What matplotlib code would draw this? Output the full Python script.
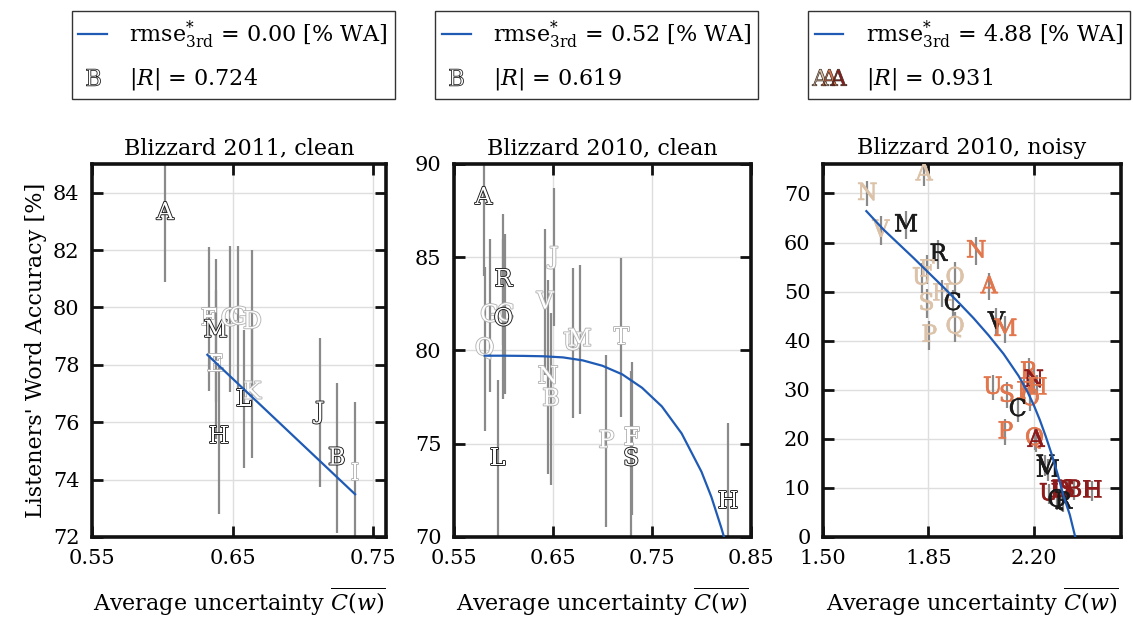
import matplotlib
matplotlib.use('Agg')
import matplotlib.pyplot as plt
import matplotlib.patheffects as pe
from matplotlib.lines import Line2D
from matplotlib.legend_handler import HandlerTuple

plt.rcParams['font.family'] = ['DejaVu Serif']
plt.rcParams['mathtext.fontset'] = 'dejavuserif'

# ---------------- data ----------------
titles = ['Blizzard 2011, clean', 'Blizzard 2010, clean', 'Blizzard 2010, noisy']
rmse_vals = ['0.00', '0.52', '4.88']
r_vals = ['0.724', '0.619', '0.931']

# Panel 1: Blizzard 2011 clean
labels1 = ['A', 'F', 'M', 'E', 'H', 'C', 'G', 'D', 'L', 'K', 'J', 'B', 'I']
x1 = [0.602, 0.633, 0.638, 0.638, 0.640, 0.648, 0.654, 0.664, 0.658, 0.664, 0.712, 0.724, 0.737]
y1 = [83.3, 79.6, 79.2, 78.0, 75.5, 79.6, 79.65, 79.5, 76.8, 77.05, 76.35, 74.75, 74.2]
e1 = [2.4, 2.5, 2.5, 2.6, 2.7, 2.55, 2.5, 2.5, 2.4, 2.3, 2.6, 2.6, 2.5]
g1 = ['k', 'g', 'k', 'g', 'k', 'g', 'g', 'g', 'k', 'g', 'k', 'k', 'g']
fit1_x = [0.632, 0.737]
fit1_y = [78.35, 73.49]

# Panel 2: Blizzard 2010 clean
labels2 = ['A', 'Q', 'G', 'C', 'R', 'O', 'L', 'V', 'N', 'B', 'J', 'U', 'M', 'P', 'T', 'F', 'S', 'H']
x2 = [0.580, 0.581, 0.586, 0.602, 0.600, 0.600, 0.594, 0.642, 0.645, 0.648, 0.651, 0.670, 0.677, 0.704, 0.719, 0.730, 0.729, 0.827]
y2 = [88.2, 80.1, 81.9, 81.95, 83.8, 81.7, 74.2, 82.6, 78.6, 77.4, 85.0, 80.4, 80.6, 75.15, 80.7, 75.3, 74.2, 71.9]
e2 = [4.2, 4.4, 4.1, 4.3, 3.5, 4.3, 4.2, 3.9, 5.2, 4.6, 3.7, 4.0, 4.0, 4.6, 4.25, 4.1, 4.7, 4.2]
g2 = ['k', 'g', 'g', 'g', 'k', 'k', 'k', 'g', 'g', 'g', 'g', 'g', 'g', 'g', 'g', 'g', 'k', 'k']
fit2_x = [0.581, 0.60, 0.62, 0.64, 0.66, 0.68, 0.70, 0.72, 0.74, 0.76, 0.78, 0.80, 0.81, 0.82, 0.83]
fit2_y = [79.72, 79.72, 79.71, 79.69, 79.63, 79.47, 79.18, 78.72, 78.0, 77.0, 75.55, 73.5, 72.15, 70.5, 68.7]

# Panel 3: Blizzard 2010 noisy
labels3 = ['N', 'A', 'V', 'M', 'R', 'U', 'F', 'O', 'H', 'C', 'S', 'Q', 'P',
           'N', 'A', 'V', 'M', 'R', 'N', 'H', 'U', 'S', 'F', 'O', 'C', 'P', 'Q', 'A',
           'V', 'M', 'U', 'I', 'D', 'S', 'B', 'H', 'Q', 'R']
x3 = [1.647, 1.836, 1.692, 1.776, 1.883, 1.828, 1.844, 1.939, 1.894, 1.931, 1.844, 1.939, 1.853,
      2.009, 2.052, 2.076, 2.106, 2.183, 2.200, 2.211, 2.064, 2.111, 2.169, 2.189, 2.147, 2.106, 2.203, 2.208,
      2.239, 2.247, 2.250, 2.269, 2.290, 2.312, 2.333, 2.394, 2.278, 2.298]
y3 = [70.0, 74.0, 62.5, 63.6, 57.6, 52.8, 54.5, 52.8, 49.6, 47.6, 47.6, 42.8, 41.1,
      58.3, 51.0, 43.8, 42.3, 33.6, 31.9, 30.5, 30.5, 28.9, 29.6, 28.2, 26.0, 21.4, 20.1, 19.7,
      14.6, 13.6, 8.8, 9.5, 9.5, 9.5, 9.5, 9.4, 7.5, 7.1]
e3 = [2.6, 2.4, 3.0, 2.8, 3.0, 3.0, 3.0, 3.2, 2.8, 2.8, 3.0, 3.0, 3.0,
      2.8, 2.8, 2.8, 2.8, 2.8, 2.8, 2.6, 2.6, 2.6, 2.6, 2.6, 2.6, 2.6, 2.4, 2.4,
      2.2, 2.2, 2.0, 2.0, 2.0, 2.0, 2.0, 2.0, 2.0, 2.0]
g3 = ['l', 'l', 'l', 'k', 'k', 'l', 'l', 'l', 'l', 'k', 'l', 'l', 'l',
      'o', 'o', 'k', 'o', 'o', 'd', 'o', 'o', 'o', 'o', 'o', 'k', 'o', 'o', 'd',
      'k', 'k', 'd', 'd', 'd', 'd', 'd', 'd', 'k', 'k']
fit3_x = [1.644, 1.70, 1.75, 1.80, 1.85, 1.90, 1.95, 2.00, 2.05, 2.10, 2.15, 2.18, 2.20,
          2.22, 2.24, 2.26, 2.28, 2.30, 2.32, 2.34]
fit3_y = [66.4, 62.7, 59.8, 56.9, 53.9, 50.9, 47.8, 44.6, 41.1, 37.3, 32.8, 29.5, 26.9,
          23.9, 20.5, 16.8, 12.7, 8.2, 4.5, -0.5]

# ---------------- styling ----------------
col_map = {'k': '#1a1a1a', 'g': '#b4b4b4', 'l': '#dcc2a8', 'o': '#e2764c', 'd': '#8e1b1b'}
line_col = '#1f5bb5'
bar_col = '#8a8a8a'

fig = plt.figure(figsize=(11.33, 6.17), dpi=100)
ax1 = fig.add_axes([0.0812, 0.1297, 0.2595, 0.6045])
ax2 = fig.add_axes([0.4007, 0.1297, 0.2621, 0.6045])
ax3 = fig.add_axes([0.7264, 0.1297, 0.2630, 0.6045])
axes = [ax1, ax2, ax3]


def style(ax):
    ax.grid(True, color='#dedede', linewidth=1.0, zorder=0)
    ax.set_axisbelow(True)
    for s in ax.spines.values():
        s.set_linewidth(2.6)
        s.set_color('#111111')
    ax.tick_params(direction='in', length=8, width=2.0, top=True, right=True,
                   labelsize=15, pad=9, color='#111111')


def draw(ax, labels, xs, ys, es, gs, outline):
    ax.errorbar(xs, ys, yerr=es, fmt='none', ecolor=bar_col, elinewidth=1.6,
                capsize=0, zorder=2)
    for s, x, y, g in zip(labels, xs, ys, gs):
        c = col_map[g]
        if outline:
            t = ax.text(x, y, s, color='white', fontsize=17, ha='center', va='center',
                        zorder=3, clip_on=True)
            t.set_path_effects([pe.Stroke(linewidth=1.3, foreground=c), pe.Normal()])
        else:
            t = ax.text(x, y, s, color=c, fontsize=17, ha='center', va='center',
                        zorder=3, clip_on=True)
            t.set_path_effects([pe.Stroke(linewidth=0.4, foreground=c), pe.Normal()])


for ax in axes:
    style(ax)

draw(ax1, labels1, x1, y1, e1, g1, True)
ax1.plot(fit1_x, fit1_y, color=line_col, lw=1.6, zorder=4)
ax1.set_xlim(0.55, 0.759)
ax1.set_ylim(72, 85)
ax1.set_xticks([0.55, 0.65, 0.75])
ax1.set_yticks([72, 74, 76, 78, 80, 82, 84])
ax1.set_ylabel("Listeners' Word Accuracy [%]", fontsize=16)

draw(ax2, labels2, x2, y2, e2, g2, True)
ax2.plot(fit2_x, fit2_y, color=line_col, lw=1.6, zorder=4)
ax2.set_xlim(0.55, 0.85)
ax2.set_ylim(70, 90)
ax2.set_xticks([0.55, 0.65, 0.75, 0.85])
ax2.set_yticks([70, 75, 80, 85, 90])

draw(ax3, labels3, x3, y3, e3, g3, False)
ax3.plot(fit3_x, fit3_y, color=line_col, lw=1.6, zorder=4)
ax3.set_xlim(1.5, 2.49)
ax3.set_ylim(0, 76)
ax3.set_xticks([1.50, 1.85, 2.20])
ax3.set_xticklabels(['1.50', '1.85', '2.20'])
ax3.set_yticks([0, 10, 20, 30, 40, 50, 60, 70])

for ax in [ax1, ax2]:
    ax.set_xticklabels(['%.2f' % v for v in ax.get_xticks()])

for i, ax in enumerate(axes):
    ax.set_title(titles[i], fontsize=16, pad=7)
    ax.set_xlabel(r'Average uncertainty $\overline{C(w)}$', fontsize=16, labelpad=12)
    line_h = Line2D([], [], color=line_col, lw=1.6)
    lab1 = r'rmse$^{*}_{\mathrm{3rd}}$ = %s [%% WA]' % rmse_vals[i]
    lab2 = r'$|R|$ = %s' % r_vals[i]
    if i < 2:
        mk = Line2D([], [], linestyle='none', marker=r'$\mathrm{B}$', markersize=12,
                    markerfacecolor='white', markeredgecolor='#222222', markeredgewidth=0.6)
        handles = [line_h, mk]
        hmap = {}
    else:
        mks = tuple(Line2D([], [], linestyle='none', marker=r'$\mathrm{A}$', markersize=12,
                           markerfacecolor=col_map[c], markeredgecolor='#3a2a20',
                           markeredgewidth=0.5) for c in ['l', 'o', 'd'])
        handles = [line_h, mks]
        hmap = {tuple: HandlerTuple(ndivide=None, pad=-0.1)}
    leg = ax.legend(handles, [lab1, lab2], loc='lower center',
                    bbox_to_anchor=(0.48 if i < 2 else 0.49, 1.174), fontsize=16,
                    frameon=True, fancybox=False, framealpha=1, edgecolor='#333333',
                    handlelength=1.3, handletextpad=1.0, labelspacing=0.7,
                    borderpad=0.3, borderaxespad=0, handler_map=hmap)
    leg.get_frame().set_linewidth(1.0)

fig.savefig('out.png', dpi=100)
